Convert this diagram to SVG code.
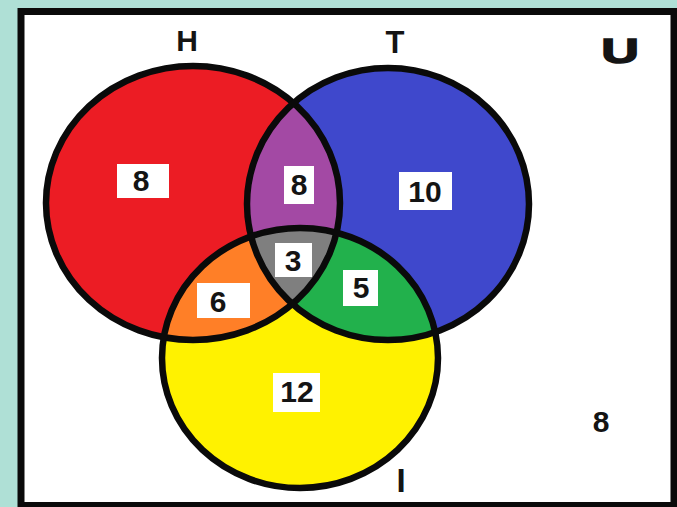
<svg xmlns="http://www.w3.org/2000/svg" width="677" height="507" viewBox="0 0 677 507">
<style>
.lbl{font-family:"Liberation Sans",Arial,sans-serif;font-weight:bold;fill:#141414;text-anchor:middle}
.num{font-size:30px}
.box{fill:#ffffff}
.ring{fill:none;stroke:#0a0a0a;stroke-width:6.5}
</style>
<defs>
<clipPath id="cH"><ellipse cx="193" cy="203" rx="147" ry="137"/></clipPath>
<clipPath id="cT"><ellipse cx="388" cy="204" rx="141" ry="136"/></clipPath>
</defs>
<rect x="0" y="0" width="677" height="507" fill="#afe0d6"/>
<rect x="21" y="11.5" width="653" height="494" fill="#ffffff" stroke="#0a0a0a" stroke-width="7"/>
<g id="fills">
<ellipse cx="193" cy="203" rx="147" ry="137" fill="#ec1c24"/>
<ellipse cx="388" cy="204" rx="141" ry="136" fill="#3f48cc"/>
<ellipse cx="300" cy="358" rx="138" ry="130" fill="#fff200"/>
<ellipse cx="388" cy="204" rx="141" ry="136" fill="#a349a4" clip-path="url(#cH)"/>
<ellipse cx="300" cy="358" rx="138" ry="130" fill="#ff7f27" clip-path="url(#cH)"/>
<ellipse cx="300" cy="358" rx="138" ry="130" fill="#22b14c" clip-path="url(#cT)"/>
<g clip-path="url(#cH)"><ellipse cx="300" cy="358" rx="138" ry="130" fill="#7f7f7f" clip-path="url(#cT)"/></g>
</g>
<g id="set-H"><ellipse class="ring" cx="193" cy="203" rx="147" ry="137"/><text class="lbl" x="187" y="51" font-size="30">H</text></g>
<g id="set-T"><ellipse class="ring" cx="388" cy="204" rx="141" ry="136"/><text class="lbl" x="395" y="53" font-size="31">T</text></g>
<g id="set-I"><ellipse class="ring" cx="300" cy="358" rx="138" ry="130"/><text class="lbl" x="401" y="492" font-size="33">I</text></g>
<g id="universe"><text class="lbl" font-size="36" stroke="#141414" stroke-width="1.5" transform="translate(620,63) scale(1.45,1)">U</text></g>
<g id="connectors"/>
<g id="region-H"><rect class="box" x="117" y="164" width="52" height="34"/><text class="lbl num" x="141" y="191">8</text></g>
<g id="region-HT"><rect class="box" x="284" y="166" width="30" height="38"/><text class="lbl num" x="299" y="195">8</text></g>
<g id="region-T"><rect class="box" x="399" y="172" width="53" height="38"/><text class="lbl num" x="425" y="202">10</text></g>
<g id="region-HTI"><rect class="box" x="275" y="243" width="37" height="34"/><text class="lbl num" x="293" y="271">3</text></g>
<g id="region-HI"><rect class="box" x="197" y="283" width="53" height="35"/><text class="lbl num" x="218" y="312">6</text></g>
<g id="region-TI"><rect class="box" x="343" y="270" width="35" height="36"/><text class="lbl num" x="361" y="298">5</text></g>
<g id="region-I"><rect class="box" x="273" y="373" width="47" height="39"/><text class="lbl num" x="297" y="402">12</text></g>
<g id="region-none"><text class="lbl num" x="601" y="432">8</text></g>
</svg>
